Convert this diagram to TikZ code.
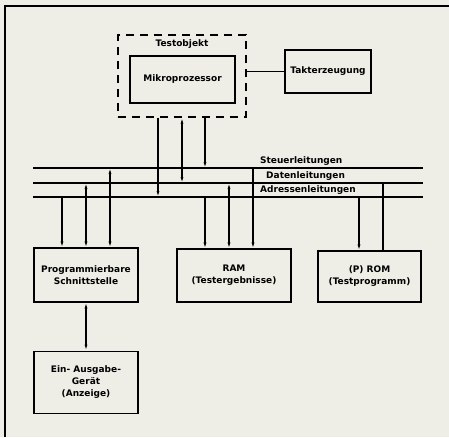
\documentclass[tikz,border=0pt]{standalone}
\usepackage{fontspec}
\setmainfont{DejaVu Sans}
\usepackage{tikz}
\usetikzlibrary{arrows.meta,positioning}
\definecolor{paper}{RGB}{238,238,231}
\newcommand{\unitfont}{\bfseries\fontsize{9}{12}\selectfont}
\tikzset{
  unit box/.style  = {draw, line width=1.1pt, align=center, inner sep=2pt,
                      font=\unitfont},
  test box/.style  = {draw, line width=1.4pt, dash pattern=on 8pt off 6pt},
  bus line/.style  = {line width=1.1pt},
  wire/.style      = {line width=1.2pt},
  arr/.style       = {line width=1.1pt, -{Latex[length=6pt,width=3pt]}},
  dbl arr/.style   = {line width=1.1pt,
                      {Latex[length=6pt,width=3pt]}-{Latex[length=6pt,width=3pt]}},
  bus label/.style = {font=\unitfont, anchor=south west, inner sep=1pt},
}

\begin{document}
\begin{tikzpicture}[x=1pt, y=-1pt]

  %% --- page and frame ----------------------------------------
  \fill[paper] (0,0) rectangle (449,437);
  \useasboundingbox (0,0) rectangle (449,437);
  \draw[wire] (449,6) -- (5,6) -- (5,437);

  %% --- test object ---------------------------------------------
  \node[test box, minimum width=128, minimum height=82] (test) at (182,76) {};
  \node[font=\unitfont, below=2pt of test.north] (testlbl) {Testobjekt};
  \node[unit box, minimum width=105, minimum height=47] (cpu) at (182.5,79.5)
    {Mikroprozessor};
  \node[unit box, minimum width=86, minimum height=43] (takt) at (328,71.5)
    {Takterzeugung};
  \draw[wire] (test.east |- takt.west) -- (takt.west);

  %% --- bus -------------------------------------------------------
  \coordinate (stL) at (33,168);  \coordinate (stR) at (423,168);
  \coordinate (daL) at (33,183);  \coordinate (daR) at (423,183);
  \coordinate (adL) at (33,197);  \coordinate (adR) at (423,197);
  \draw[bus line] (stL) -- (stR);
  \draw[bus line] (daL) -- (daR);
  \draw[bus line] (adL) -- (adR);
  \node[bus label] (stlbl) at (259,167) {Steuerleitungen};
  \node[bus label] (dalbl) at (265,182) {Datenleitungen};
  \node[bus label] (adlbl) at (259,196) {Adressenleitungen};

  %% --- units -----------------------------------------------------
  \node[unit box, minimum width=104, minimum height=54] (iface) at (86,275)
    {Programmierbare\\Schnittstelle};
  \node[unit box, minimum width=114, minimum height=53] (ram) at (234,275.5)
    {RAM\\(Testergebnisse)};
  \node[unit box, minimum width=103, minimum height=51] (rom) at (369.5,276.5)
    {(P) ROM\\(Testprogramm)};
  \node[unit box, minimum width=104, minimum height=62, below=48pt of iface]
    (io) {Ein- Ausgabe-\\Gerät\\(Anzeige)};

  %% --- connectors ------------------------------------------------
  \draw[arr]     ([xshift=-24pt]test.south) -- ([xshift=-24pt]test.south |- adL);
  \draw[dbl arr] (test.south) -- (test.south |- daL);
  \draw[arr]     ([xshift=23pt]test.south) -- ([xshift=23pt]test.south |- stL);

  \draw[arr]     ([xshift=-24pt]iface.north |- adL) -- ([xshift=-24pt]iface.north);
  \draw[dbl arr] (iface.north |- daL) -- (iface.north);
  \draw[dbl arr] ([xshift=24pt]iface.north |- stL) -- ([xshift=24pt]iface.north);
  \draw[dbl arr] (iface.south) -- (io.north);

  \draw[arr]     ([xshift=-29pt]ram.north |- adL) -- ([xshift=-29pt]ram.north);
  \draw[dbl arr] ([xshift=-5pt]ram.north |- daL) -- ([xshift=-5pt]ram.north);
  \draw[arr]     ([xshift=19pt]ram.north |- stL) -- ([xshift=19pt]ram.north);

  \draw[arr]     ([xshift=-10.5pt]rom.north |- adL) -- ([xshift=-10.5pt]rom.north);
  \draw[wire]    ([xshift=13.5pt]rom.north |- daL) -- ([xshift=13.5pt]rom.north);
\end{tikzpicture}
\end{document}
